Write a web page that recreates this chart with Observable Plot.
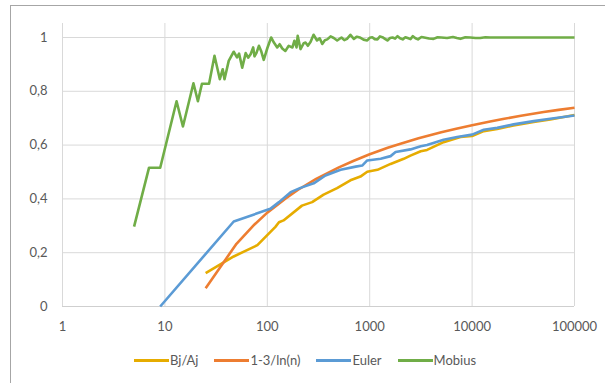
<!DOCTYPE html>
<html><head><meta charset="utf-8">
<script src="https://cdn.jsdelivr.net/npm/d3@7"></script>
<script src="https://cdn.jsdelivr.net/npm/@observablehq/plot@0.6"></script>
<style>
body{margin:0;background:#fff;}
#wrap{position:relative;width:605px;height:383px;overflow:hidden;font-family:Lato,"Open Sans",sans-serif;background:#fff;}
#frame{position:absolute;left:10px;top:5px;width:700px;height:500px;border-left:1px solid #a6a6a6;border-top:1px solid #a6a6a6;}
#chart{position:absolute;left:0;top:0;}
#legend{position:absolute;top:352px;left:134px;display:flex;align-items:center;gap:16px;font-size:13px;color:#595959;line-height:16px;}
.item{display:flex;align-items:center;}
.sw{display:inline-block;width:35px;height:3px;margin-right:1px;}
</style></head><body>
<div id="wrap"><div id="frame"></div><div id="chart"></div><div id="legend"></div></div>
<script>
const seriesNames = ["Bj/Aj", "1-3/ln(n)", "Euler", "Mobius"];
const seriesColors = ["#E6AC00", "#ED7D31", "#5B9BD5", "#70AD47"];
const xTicks = [1, 10, 100, 1000, 10000, 100000];
const yTicks = [0, 0.2, 0.4, 0.6, 0.8, 1];

const bjN = [25,47,80,120,130,144,218,274,355,480,648,812,946,1190,1600,2150,2500,3150,3630,5270,7700,10000,13000,17600,25400,40000,58000,100000];
const bjV = [0.124,0.186,0.228,0.296,0.313,0.32,0.375,0.388,0.416,0.44,0.469,0.483,0.501,0.508,0.53,0.549,0.561,0.577,0.582,0.611,0.63,0.634,0.652,0.66,0.673,0.686,0.695,0.712];

const lnN = [25,50,75,100,150,200,300,500,700,1000,1500,2000,3000,5000,7000,10000,15000,20000,30000,50000,70000,100000];
const lnV = [0.068,0.233,0.305,0.349,0.401,0.434,0.474,0.517,0.542,0.566,0.590,0.605,0.625,0.648,0.661,0.674,0.688,0.697,0.709,0.723,0.731,0.739];

const eulerN = [9,47,107,130,169,211,284,370,520,730,845,946,1280,1600,1790,2500,3150,3630,5270,7140,10000,13000,17600,25400,40000,58000,100000];
const eulerV = [0,0.316,0.363,0.388,0.425,0.441,0.458,0.487,0.508,0.52,0.524,0.543,0.549,0.559,0.574,0.584,0.596,0.6,0.62,0.63,0.639,0.657,0.664,0.677,0.689,0.698,0.71];

const mobN = [5,7,9,13,15,19,21,23,27,30.5,34.4,36.7,38.2,42,47,50.6,53,56.9,61.5,65,68.7,72.8,75,78.6,82.8,87,92.3,100,109,116,125,132,140,150,162,176,184,193,198,211,227,236,249,265,283,306,325,344,365,385,415,446,481,530,565,600,648,700,750,800,870,946,1000,1060,1120,1190,1260,1330,1410,1490,1580,1670,1770,1870,1980,2100,2230,2350,2500,2640,2800,2960,3200,3400,3800,4200,4600,5000,5700,6500,7100,7700,8600,9600,10800,12000,13500,15000,17000,19000,100000];
const mobV = [0.297,0.516,0.516,0.763,0.669,0.830,0.763,0.828,0.828,0.932,0.845,0.882,0.845,0.913,0.947,0.926,0.94,0.888,0.942,0.925,0.938,0.963,0.93,0.944,0.969,0.95,0.917,0.96,1.0,0.981,0.963,0.975,0.959,0.95,0.969,0.963,0.988,0.963,1.006,0.957,0.979,0.981,0.969,0.984,1.01,0.989,0.997,0.976,0.99,0.993,1.004,0.998,0.989,1.0,0.99,0.995,1.01,0.995,1.003,1.0,0.992,0.989,0.999,1.001,0.994,0.993,1.004,1.001,0.995,0.989,0.998,1.0,0.996,1.005,0.997,0.993,1.001,0.998,0.994,1.005,0.997,0.993,1.002,1.0,0.996,0.995,1.001,1.0,0.998,1.002,0.998,0.995,1.001,1.0,0.998,0.998,1.001,1.0,1.0,1.0,1.0];

const allN = [bjN, lnN, eulerN, mobN];
const allV = [bjV, lnV, eulerV, mobV];

const lineMarks = seriesNames.map((name, i) =>
  Plot.line(allN[i].map((n, j) => ({series: name, n, v: allV[i][j]})),
    {x: "n", y: "v", stroke: "series", strokeWidth: 2.6, strokeLinejoin: "round", strokeLinecap: "butt"})
);

const chart = Plot.plot({
  width: 605, height: 340,
  marginLeft: 62, marginRight: 31, marginTop: 23, marginBottom: 34,
  style: {fontFamily: "Lato, 'Open Sans', sans-serif", fontSize: "13px", color: "#595959", background: "transparent"},
  x: {type: "log", domain: [1, 100000]},
  y: {domain: [0, 1.052]},
  color: {domain: seriesNames, range: seriesColors},
  marks: [
    Plot.gridX(xTicks, {stroke: "#d9d9d9", strokeOpacity: 1}),
    Plot.gridY(yTicks, {stroke: "#d9d9d9", strokeOpacity: 1}),
    Plot.ruleY([0], {stroke: "#cfcfcf"}),
    Plot.axisX(xTicks, {tickSize: 0, tickPadding: 15, tickFormat: d => String(d), label: null, fill: "#595959"}),
    Plot.axisY(yTicks, {tickSize: 0, tickPadding: 15, tickFormat: d => String(d).replace(".", ","), label: null, fill: "#595959"}),
    ...lineMarks
  ]
});
document.getElementById("chart").appendChild(chart);

const legend = document.getElementById("legend");
seriesNames.forEach((name, i) => {
  const item = document.createElement("div");
  item.className = "item";
  const sw = document.createElement("span");
  sw.className = "sw";
  sw.style.background = seriesColors[i];
  const t = document.createElement("span");
  t.textContent = name;
  item.appendChild(sw);
  item.appendChild(t);
  legend.appendChild(item);
});
</script>
</body></html>
